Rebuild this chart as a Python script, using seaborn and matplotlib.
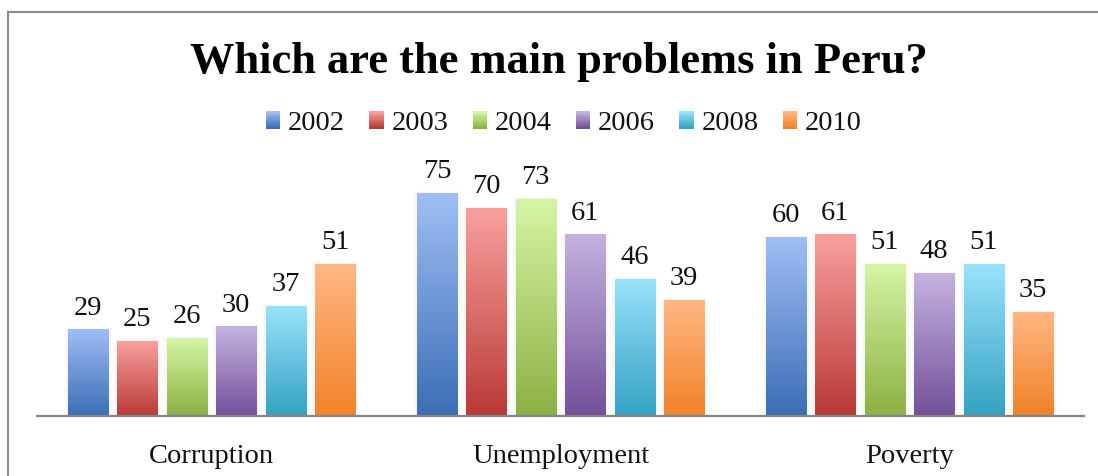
import numpy as np
import pandas as pd
import matplotlib
matplotlib.use("Agg")
import matplotlib.pyplot as plt
from matplotlib.patches import Rectangle, Patch
from matplotlib.legend_handler import HandlerBase
from matplotlib.colors import to_rgb
import seaborn as sns

# ---- data -------------------------------------------------------------
problems = ["Corruption", "Unemployment", "Poverty"]
years = ["2002", "2003", "2004", "2006", "2008", "2010"]
pct_2002 = [29, 75, 60]
pct_2003 = [25, 70, 61]
pct_2004 = [26, 73, 51]
pct_2006 = [30, 61, 48]
pct_2008 = [37, 46, 51]
pct_2010 = [51, 39, 35]
series = [pct_2002, pct_2003, pct_2004, pct_2006, pct_2008, pct_2010]

# gradient end colours per year: (light top, dark bottom)
grad_top = ["#A0BEF5", "#F9A09E", "#D4F5A4", "#C4B3E1", "#9AE2FC", "#FFB783"]
grad_bottom = ["#3A6EB6", "#B93A36", "#8DB043", "#73509A", "#33A2C3", "#F28228"]

df = pd.DataFrame(
    [(p, y, v) for y, vals in zip(years, series) for p, v in zip(problems, vals)],
    columns=["problem", "year", "pct"],
)

# ---- style --------------------------------------------------------------
sns.set_theme(style="white")
plt.rcParams["font.family"] = ["Liberation Serif", "DejaVu Serif"]

W, H = 1098, 476
fig = plt.figure(figsize=(W / 100, H / 100), dpi=100)
fig.patch.set_facecolor("white")

ax = fig.add_axes([37 / W, 60.3 / H, 1047 / W, 237.6 / H])
ax.set_facecolor("none")

sns.barplot(
    data=df, x="problem", y="pct", hue="year", hue_order=years,
    order=problems, palette=grad_bottom, width=0.85, gap=0.19,
    legend=False, ax=ax, saturation=1, linewidth=0,
)


def gradient(top, bottom, n=256):
    t = np.linspace(0, 1, n)[:, None]
    a = np.array(to_rgb(top))
    b = np.array(to_rgb(bottom))
    return (a * (1 - t) + b * t)[:, None, :]


px_x = 1 / 349.0   # data units per pixel, horizontal
px_y = 1 / 2.97    # data units per pixel, vertical
LABEL_SIZE = 20.5

for container, top, bottom in zip(ax.containers, grad_top, grad_bottom):
    img = gradient(top, bottom)
    for bar, val in zip(container.patches, container.datavalues):
        x0, w, h = bar.get_x(), bar.get_width(), bar.get_height()
        # faint soft shadow around the bar
        for k in range(1, 4):
            ax.add_patch(Rectangle(
                (x0 - k * 1.3 * px_x, 0), w + 2 * k * 1.3 * px_x, h + k * 0.6 * px_y,
                facecolor="#000000", alpha=0.011, linewidth=0, zorder=1))
        bar.set_zorder(2)
        ax.imshow(img, extent=(x0, x0 + w, 0, h), aspect="auto",
                  origin="upper", zorder=3, interpolation="bilinear")
        ax.annotate(f"{val:g}", xy=(x0 + w / 2, h), xytext=(0, 10.8),
                    textcoords="offset points", ha="center", va="baseline",
                    fontsize=LABEL_SIZE, color="#111111")

ax.set_xlim(-0.5, 2.5)
ax.set_ylim(0, 80)
ax.set_xlabel("")
ax.set_ylabel("")
ax.set_yticks([])
ax.tick_params(axis="x", length=0, pad=20.5, labelsize=LABEL_SIZE, colors="#111111")
for side in ("left", "right", "top"):
    ax.spines[side].set_visible(False)
ax.spines["bottom"].set_color("#868686")
ax.spines["bottom"].set_linewidth(1.6)
ax.spines["bottom"].set_zorder(5)


# ---- legend with gradient squares ----------------------------------------
class GradientSquare(HandlerBase):
    def create_artists(self, legend, orig_handle, xdescent, ydescent,
                       width, height, fontsize, trans):
        top, bottom = orig_handle.grad
        n = 14
        a = np.array(to_rgb(top))
        b = np.array(to_rgb(bottom))
        arts = []
        for i in range(n):
            t = i / (n - 1)
            c = b * (1 - t) + a * t
            r = Rectangle((-xdescent, -ydescent + i * height / n), width,
                          height / n + 0.3, facecolor=c, edgecolor="none",
                          linewidth=0, transform=trans)
            arts.append(r)
        return arts


handles = []
for y, t, b in zip(years, grad_top, grad_bottom):
    h = Patch(label=y)
    h.grad = (t, b)
    handles.append(h)

fig.legend(
    handles=handles, labels=years, loc="center", ncol=6,
    bbox_to_anchor=(564 / W, 1 - 123.5 / H), frameon=False, fontsize=LABEL_SIZE,
    handler_map={Patch: GradientSquare()}, handlelength=0.5,
    handleheight=0.55, handletextpad=0.28, columnspacing=0.85,
    labelcolor="#111111",
)

# ---- title ------------------------------------------------------------------
fig.text(558.5 / W, 1 - 73 / H, "Which are the main problems in Peru?",
         ha="center", va="baseline", fontsize=32, fontweight="bold",
         color="#000000")

# ---- outer frame ------------------------------------------------------------
fig.patches.append(Rectangle((8 / W, -0.05), 1.2, 1 - 11.7 / H + 0.05,
                             transform=fig.transFigure, fill=False,
                             edgecolor="#8C8C8C", linewidth=1.5, zorder=0))

fig.savefig("out.png", dpi=100)
